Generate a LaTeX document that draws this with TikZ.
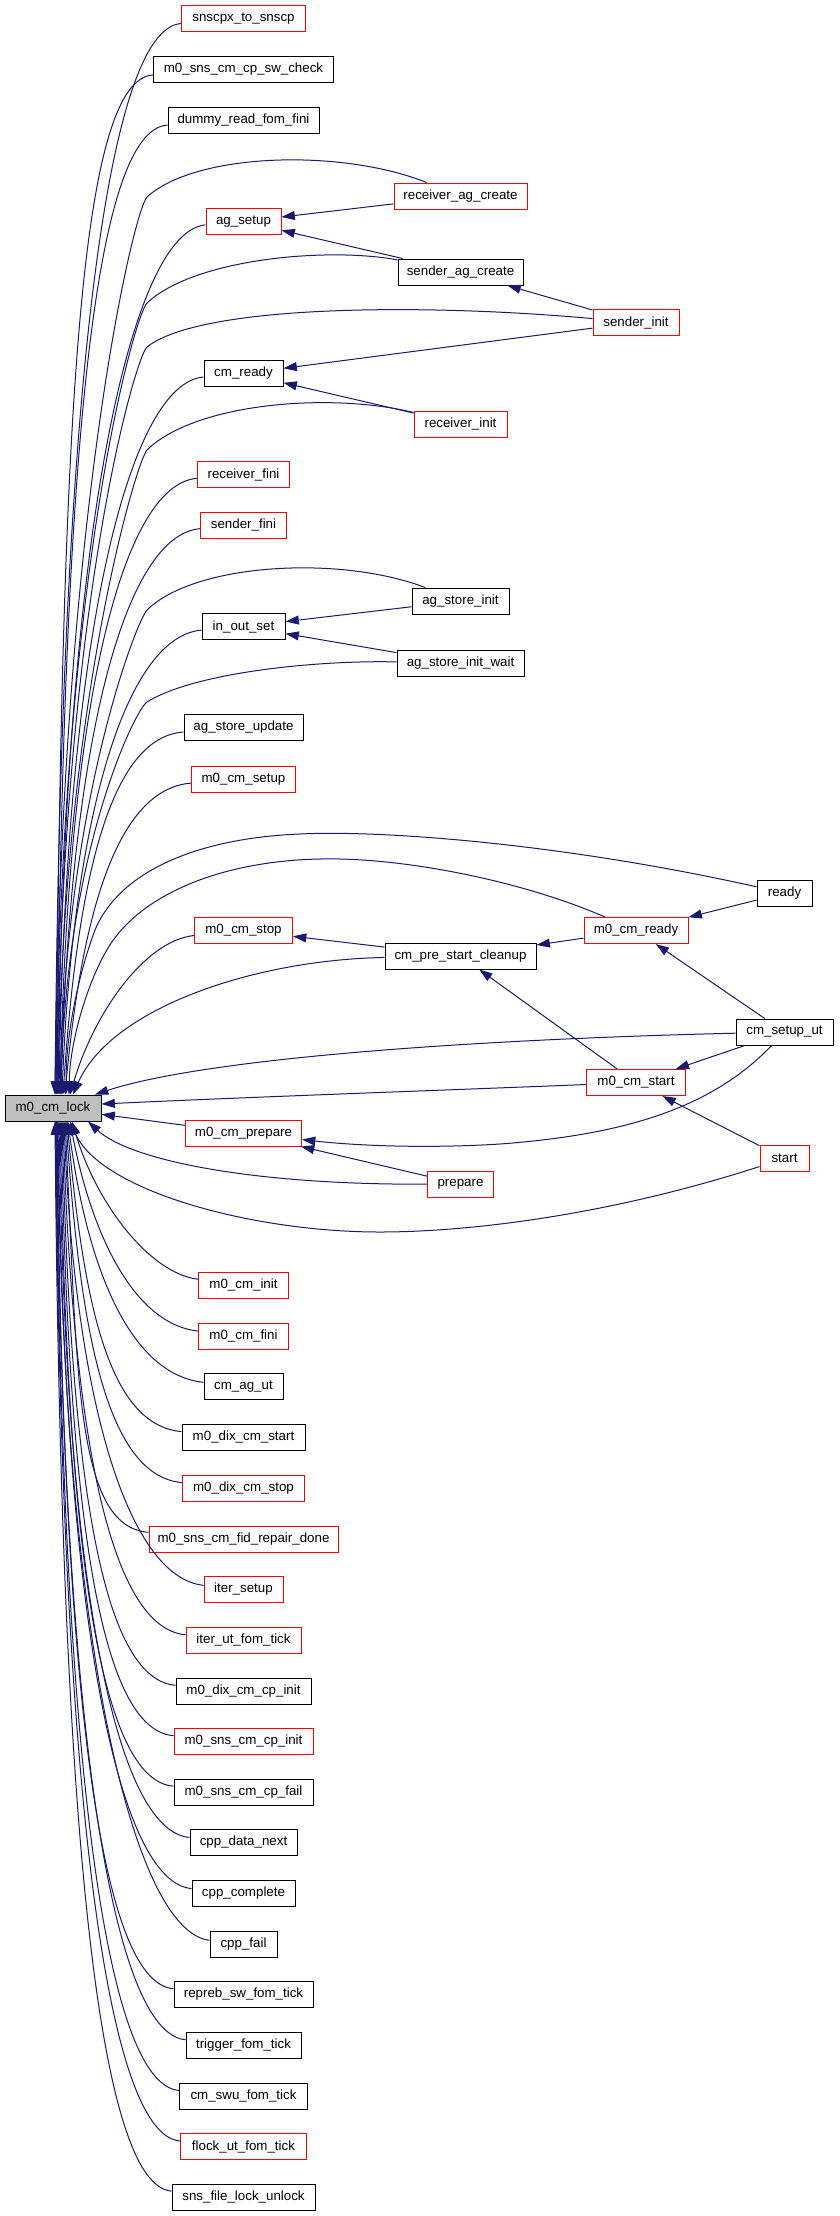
\documentclass[tikz,border=0pt]{standalone}
\usepackage{fontspec}
\setmainfont{Liberation Sans}
\usetikzlibrary{arrows.meta,calc}
\definecolor{edgec}{HTML}{191970}
\definecolor{lockfill}{HTML}{BFBFBF}
\definecolor{redb}{HTML}{FF0000}
\tikzset{
  fn/.style={draw, rectangle, line width=0.75pt, minimum height=19.5pt, inner sep=0pt,
    font=\fontsize{10pt}{12pt}\selectfont, text=black},
  rb/.style={fn, draw=redb},
  bb/.style={fn, draw=black},
  conn/.style={draw=edgec, line width=0.75pt, -{Triangle[length=10pt,width=6.7pt]}}
}
\newcommand\fnode[6]{\node[#6, minimum width=#4*0.75pt] (#1) at (#2,#3) {#5};}
\newcommand\topedge[4]{%
  \pgfmathsetmacro\eD{1094-#3}%
  \pgfmathsetmacro\eF{\eD/1070}%
  \pgfmathsetmacro\eB{min(75,0.3*\eD)}%
  \pgfmathsetmacro\eH{max(0,1-\eF)}%
  \pgfmathsetmacro\eG{\eH*\eH*\eH}%
  \pgfmathsetmacro\eAx{#2-\eB}%
  \pgfmathsetmacro\eAy{#3+10}%
  \pgfmathsetmacro\eBx{#4+6+30*\eG}%
  \pgfmathsetmacro\eBy{#3+(0.35+0.25*\eG)*\eD}%
  \draw[conn] (#1) .. controls (\eAx,\eAy) and (\eBx,\eBy) .. ($(lock.north)+(#4-53,0)$);%
}
\newcommand\botedge[4]{%
  \pgfmathsetmacro\eD{#3-1121}%
  \pgfmathsetmacro\eF{\eD/1070}%
  \pgfmathsetmacro\eB{min(75,0.3*\eD)}%
  \pgfmathsetmacro\eH{max(0,1-\eF)}%
  \pgfmathsetmacro\eG{\eH*\eH*\eH}%
  \pgfmathsetmacro\eAx{#2-\eB}%
  \pgfmathsetmacro\eAy{#3-12}%
  \pgfmathsetmacro\eBx{#4+6+30*\eG}%
  \pgfmathsetmacro\eBy{#3-(0.35+0.25*\eG)*\eD}%
  \draw[conn] (#1) .. controls (\eAx,\eAy) and (\eBx,\eBy) .. ($(lock.south)+(#4-53,0)$);%
}
\begin{document}
\begin{tikzpicture}[x=0.75pt, y=-0.75pt]
\useasboundingbox (0,0) rectangle (839,2216);
% column 1
\fnode{snscpx}{243.5}{19}{124}{snscpx\_to\_snscp}{rb}
\fnode{swcheck}{243.5}{69.5}{180}{m0\_sns\_cm\_cp\_sw\_check}{bb}
\fnode{dummy}{243.5}{120}{151}{dummy\_read\_fom\_fini}{bb}
\fnode{agsetup}{243.5}{221.5}{75}{ag\_setup}{rb}
\fnode{cmready}{243.5}{373.5}{79}{cm\_ready}{bb}
\fnode{rfini}{243.5}{474.5}{92}{receiver\_fini}{rb}
\fnode{sfini}{243.5}{525}{86}{sender\_fini}{rb}
\fnode{inoutset}{243.5}{626.5}{83}{in\_out\_set}{bb}
\fnode{agsupd}{243.5}{727.5}{119}{ag\_store\_update}{bb}
\fnode{cmsetup}{243.5}{779}{104}{m0\_cm\_setup}{rb}
\fnode{cmstop}{243.5}{930.5}{98}{m0\_cm\_stop}{rb}
\node[fn, fill=lockfill, minimum width=96*0.75pt] (lock) at (53,1108) {m0\_cm\_lock};
\fnode{cmprep}{243.5}{1133}{116}{m0\_cm\_prepare}{rb}
\fnode{cminit}{243.5}{1285}{90}{m0\_cm\_init}{rb}
\fnode{cmfini}{243.5}{1336}{90}{m0\_cm\_fini}{rb}
\fnode{cmagut}{243.5}{1386.5}{79}{cm\_ag\_ut}{bb}
\fnode{dixstart}{243.5}{1437}{123}{m0\_dix\_cm\_start}{bb}
\fnode{dixstop}{243.5}{1488}{122}{m0\_dix\_cm\_stop}{rb}
\fnode{fidrep}{243.5}{1539}{189}{m0\_sns\_cm\_fid\_repair\_done}{rb}
\fnode{itersetup}{243.5}{1589.5}{79}{iter\_setup}{rb}
\fnode{iterut}{243.5}{1640}{115}{iter\_ut\_fom\_tick}{rb}
\fnode{dixcpinit}{243.5}{1691}{135}{m0\_dix\_cm\_cp\_init}{bb}
\fnode{snscpinit}{243.5}{1741.5}{139}{m0\_sns\_cm\_cp\_init}{rb}
\fnode{snscpfail}{243.5}{1792}{139}{m0\_sns\_cm\_cp\_fail}{bb}
\fnode{cppdn}{243.5}{1842.5}{107}{cpp\_data\_next}{bb}
\fnode{cppcomp}{243.5}{1893.5}{103}{cpp\_complete}{bb}
\fnode{cppfail}{243.5}{1944}{67}{cpp\_fail}{bb}
\fnode{repreb}{243.5}{1994.5}{139}{repreb\_sw\_fom\_tick}{bb}
\fnode{trigger}{243.5}{2045}{115}{trigger\_fom\_tick}{bb}
\fnode{cmswu}{243.5}{2096}{128}{cm\_swu\_fom\_tick}{bb}
\fnode{flock}{243.5}{2146.5}{126}{flock\_ut\_fom\_tick}{rb}
\fnode{snsfile}{243.5}{2197}{143}{sns\_file\_lock\_unlock}{bb}
% column 2
\fnode{rac}{460.5}{196}{133}{receiver\_ag\_create}{rb}
\fnode{sac}{460.5}{272}{125}{sender\_ag\_create}{bb}
\fnode{ri}{460.5}{424}{93}{receiver\_init}{rb}
\fnode{asi}{460.5}{601}{97}{ag\_store\_init}{bb}
\fnode{asiw}{460.5}{663.5}{127}{ag\_store\_init\_wait}{bb}
\fnode{cleanup}{460.5}{956}{151}{cm\_pre\_start\_cleanup}{bb}
\fnode{prepare}{460.5}{1184}{66}{prepare}{rb}
% column 3
\fnode{si}{636}{322.5}{86}{sender\_init}{rb}
\fnode{cmrdy}{636}{930.5}{104}{m0\_cm\_ready}{rb}
\fnode{cmstart}{636}{1082.5}{99}{m0\_cm\_start}{rb}
% column 4
\fnode{ready}{784.5}{893}{55}{ready}{bb}
\fnode{setup}{784.5}{1032}{97}{cm\_setup\_ut}{bb}
\fnode{start}{784.5}{1158.5}{49}{start}{rb}

% column-1 callers above the lock
\topedge{snscpx}{181}{19}{55}
\topedge{swcheck}{153}{69.5}{56}
\topedge{dummy}{168}{120}{57}
\topedge{agsetup}{206}{221.5}{58}
\topedge{cmready}{204}{373.5}{59}
\topedge{rfini}{197}{474.5}{60}
\topedge{sfini}{200}{525}{61}
\topedge{inoutset}{202}{626.5}{62}
\topedge{agsupd}{184}{727.5}{63}
\topedge{cmsetup}{191}{779}{65}
\topedge{cmstop}{194}{930.5}{70}
% column-1 callers below the lock
\botedge{cminit}{198}{1285}{72}
\botedge{cmfini}{198}{1336}{70}
\botedge{cmagut}{204}{1386.5}{68}
\botedge{dixstart}{182}{1437}{67}
\botedge{dixstop}{182}{1488}{66}
\botedge{fidrep}{149}{1539}{65}
\botedge{itersetup}{204}{1589.5}{64}
\botedge{iterut}{186}{1640}{63}
\botedge{dixcpinit}{176}{1691}{62}
\botedge{snscpinit}{174}{1741.5}{61}
\botedge{snscpfail}{174}{1792}{60}
\botedge{cppdn}{190}{1842.5}{59}
\botedge{cppcomp}{192}{1893.5}{58}
\botedge{cppfail}{210}{1944}{57.5}
\botedge{repreb}{174}{1994.5}{57}
\botedge{trigger}{186}{2045}{56.5}
\botedge{cmswu}{179}{2096}{56}
\botedge{flock}{180}{2146.5}{55.5}
\botedge{snsfile}{172}{2197}{55}

% long curves from the right-hand columns into the lock
\draw[conn] (rac) .. controls (340,148) and (195,153) .. (147,197)
  .. controls (135,208) and (62,500) .. ($(lock.north)+(2,0)$);
\draw[conn] (sac) .. controls (330,247) and (195,258) .. (147,303)
  .. controls (136,313) and (62,560) .. ($(lock.north)+(3,0)$);
\draw[conn] (si) .. controls (420,303) and (200,305) .. (147,347)
  .. controls (136,356) and (63,600) .. ($(lock.north)+(4,0)$);
\draw[conn] (ri) .. controls (330,392) and (195,403) .. (147,450)
  .. controls (137,460) and (64,700) .. ($(lock.north)+(5,0)$);
\draw[conn] (asi) .. controls (340,555) and (195,563) .. (147,610)
  .. controls (137,620) and (66,800) .. ($(lock.north)+(7,0)$);
\draw[conn] (asiw) .. controls (320,660) and (195,672) .. (147,702)
  .. controls (135,710) and (66,850) .. ($(lock.north)+(8,0)$);
\draw[conn] (ready) .. controls (560,843) and (380,830) .. (300,834)
  .. controls (200,838) and (120,870) .. (95,930)
  .. controls (80,970) and (66,1030) .. ($(lock.north)+(13,0)$);
\draw[conn] (cmrdy) .. controls (520,880) and (400,857) .. (320,859)
  .. controls (220,861) and (140,895) .. (108,948)
  .. controls (88,981) and (70,1040) .. ($(lock.north)+(16,0)$);
\draw[conn] (cleanup) .. controls (250,960) and (110,1010) .. ($(lock.north)+(20,0)$);
\draw[conn] (setup) .. controls (450,1040) and (200,1060) .. ($(lock.north)+(42,0)$);
\draw[conn] (cmstart) .. controls (450,1090) and (250,1097) .. ($(lock.east)+(0,-4)$);
\draw[conn] (cmprep) -- (lock);
\draw[conn] (prepare) .. controls (250,1185) and (130,1160) .. ($(lock.south)+(35,0)$);
\draw[conn] (start) .. controls (600,1218) and (460,1232) .. (380,1232)
  .. controls (250,1232) and (100,1190) .. ($(lock.south)+(17,0)$);

% other calls
\draw[conn] (rac) -- (agsetup);
\draw[conn] (sac) -- (agsetup);
\draw[conn] (si) -- (sac);
\draw[conn] (si) -- (cmready);
\draw[conn] (ri) -- (cmready);
\draw[conn] (asi) -- (inoutset);
\draw[conn] (asiw) -- (inoutset);
\draw[conn] (cleanup) -- (cmstop);
\draw[conn] (cmrdy) -- (cleanup);
\draw[conn] (cmstart) -- (cleanup);
\draw[conn] (ready) -- (cmrdy);
\draw[conn] (setup) -- (cmrdy);
\draw[conn] (setup) -- (cmstart);
\draw[conn] (start) -- (cmstart);
\draw[conn] (prepare) -- (cmprep);
\draw[conn] (setup) .. controls (710,1110) and (620,1135) .. (500,1144)
  .. controls (420,1149) and (350,1145) .. (cmprep);
\end{tikzpicture}
\end{document}
